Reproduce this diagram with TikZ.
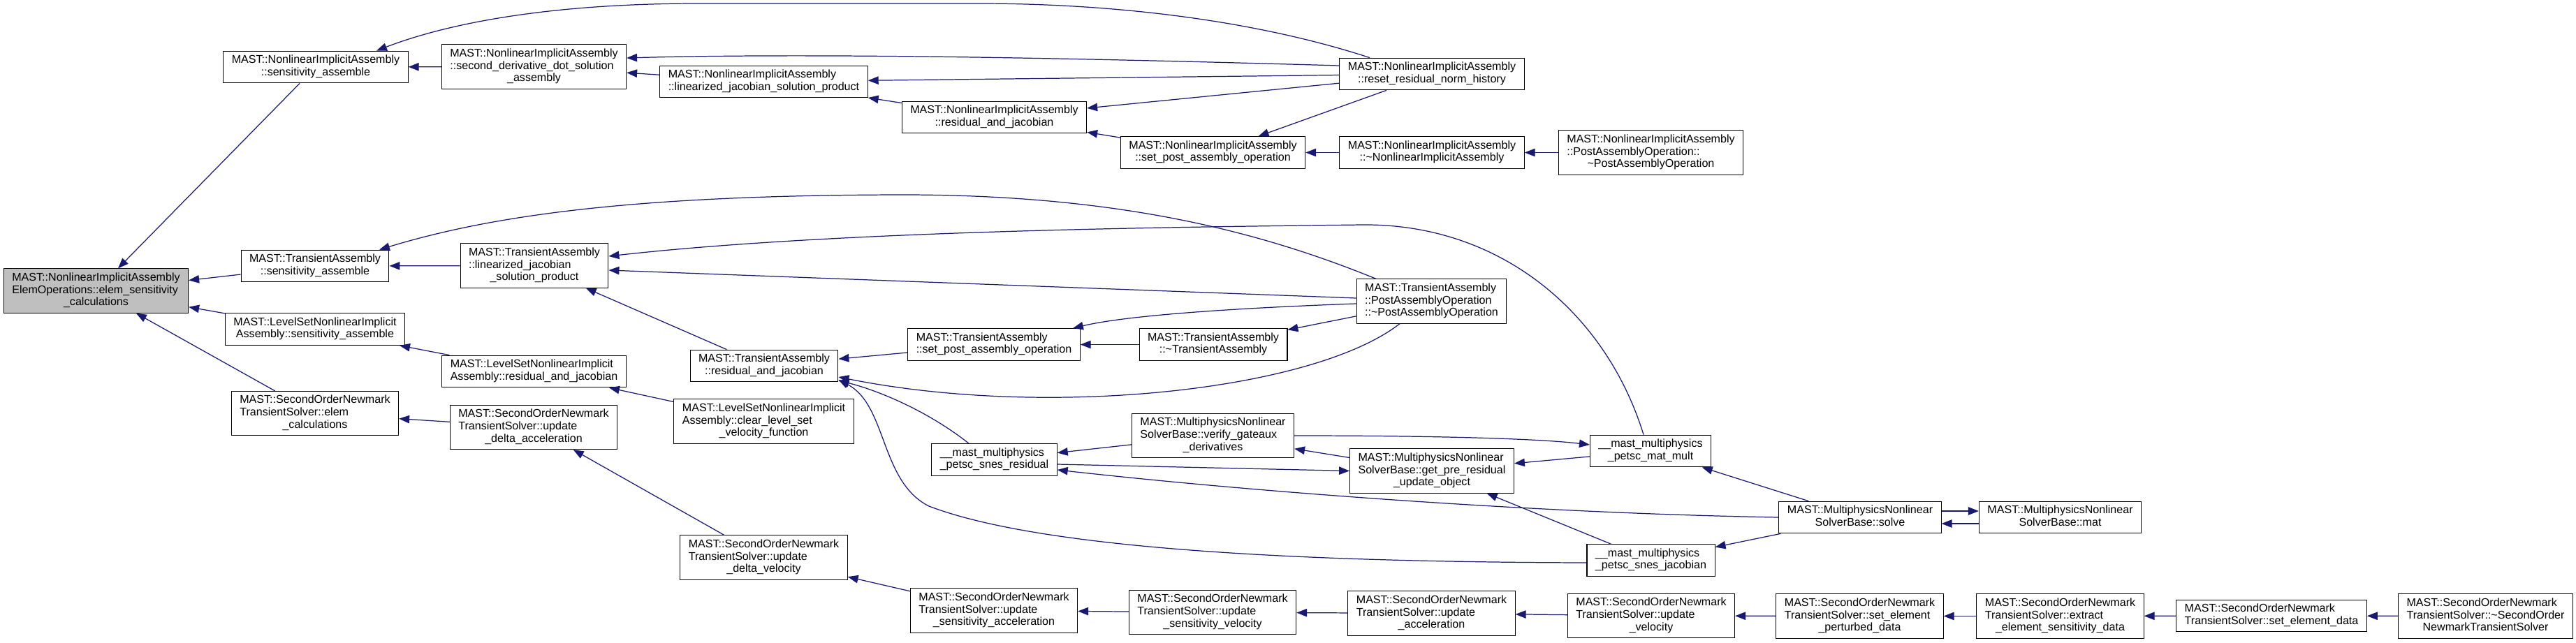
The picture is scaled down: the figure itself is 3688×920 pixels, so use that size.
\documentclass[tikz,border=0pt]{standalone}
\usepackage{fontspec}
\setmainfont{Liberation Sans}
\usetikzlibrary{arrows.meta}
\definecolor{edgeblue}{HTML}{191970}
\definecolor{mainfill}{HTML}{BFBFBF}
\newcommand{\fnlab}[2]{\begin{tabular}{@{}l@{}}#1\\\multicolumn{1}{@{}c@{}}{#2}\end{tabular}}
\begin{document}
\begin{tikzpicture}[x=0.02cm, y=-0.02cm,
    fn/.style={draw=black, line width=0.6pt, fill=white, inner xsep=0.24cm, inner ysep=3pt,
      font=\fontsize{9.15}{10}\selectfont},
    calls/.style={draw=edgeblue, line width=0.7pt, -{Triangle[length=8.5pt,width=6.5pt]}}]
    \useasboundingbox (0,0) rectangle (3688,920);

    % column 1 and 2
    \node[fn, fill=mainfill] (esc) at (137.5,416.5) {\fnlab{MAST::NonlinearImplicitAssembly\\ElemOperations::elem\_sensitivity}{\_calculations}};
    \node[fn] (niaSens) at (452,96) {\fnlab{MAST::NonlinearImplicitAssembly}{::sensitivity\_assemble}};
    \node[fn] (taSens) at (451,381) {\fnlab{MAST::TransientAssembly}{::sensitivity\_assemble}};
    \node[fn] (lsSens) at (451,471.5) {\fnlab{MAST::LevelSetNonlinearImplicit}{Assembly::sensitivity\_assemble}};
    \node[fn] (snElem) at (451,592) {\fnlab{MAST::SecondOrderNewmark\\TransientSolver::elem}{\_calculations}};

    % column 3 and 4
    \node[fn] (niaSecond) at (764.5,95.5) {\fnlab{MAST::NonlinearImplicitAssembly\\::second\_derivative\_dot\_solution}{\_assembly}};
    \node[fn] (taLin) at (765,380.5) {\fnlab{MAST::TransientAssembly\\::linearized\_jacobian}{\_solution\_product}};
    \node[fn] (lsRes) at (764.5,532) {\fnlab{MAST::LevelSetNonlinearImplicit}{Assembly::residual\_and\_jacobian}};
    \node[fn] (snDAcc) at (764,612) {\fnlab{MAST::SecondOrderNewmark\\TransientSolver::update}{\_delta\_acceleration}};
    \node[fn] (niaLin) at (1093.5,117) {\fnlab{MAST::NonlinearImplicitAssembly}{::linearized\_jacobian\_solution\_product}};
    \node[fn] (taRes) at (1094,524) {\fnlab{MAST::TransientAssembly}{::residual\_and\_jacobian}};
    \node[fn] (lsClear) at (1093.5,603.5) {\fnlab{MAST::LevelSetNonlinearImplicit\\Assembly::clear\_level\_set}{\_velocity\_function}};
    \node[fn] (snDVel) at (1093.5,798.5) {\fnlab{MAST::SecondOrderNewmark\\TransientSolver::update}{\_delta\_velocity}};

    % column 5 and 6
    \node[fn] (niaRes) at (1423.5,168) {\fnlab{MAST::NonlinearImplicitAssembly}{::residual\_and\_jacobian}};
    \node[fn] (taSet) at (1423,493.5) {\fnlab{MAST::TransientAssembly}{::set\_post\_assembly\_operation}};
    \node[fn] (snesRes) at (1423.5,658.5) {\fnlab{\_\_mast\_multiphysics}{\_petsc\_snes\_residual}};
    \node[fn] (snSAcc) at (1423,874.5) {\fnlab{MAST::SecondOrderNewmark\\TransientSolver::update}{\_sensitivity\_acceleration}};
    \node[fn] (niaSet) at (1736.5,218.5) {\fnlab{MAST::NonlinearImplicitAssembly}{::set\_post\_assembly\_operation}};
    \node[fn] (taDtor) at (1737,493.5) {\fnlab{MAST::TransientAssembly}{::\textasciitilde TransientAssembly}};
    \node[fn] (verify) at (1736.5,624) {\fnlab{MAST::MultiphysicsNonlinear\\SolverBase::verify\_gateaux}{\_derivatives}};
    \node[fn] (snSVel) at (1736,877) {\fnlab{MAST::SecondOrderNewmark\\TransientSolver::update}{\_sensitivity\_velocity}};

    % column 7 and 8
    \node[fn] (reset) at (2050,106) {\fnlab{MAST::NonlinearImplicitAssembly}{::reset\_residual\_norm\_history}};
    \node[fn] (niaDtor) at (2050,218.5) {\fnlab{MAST::NonlinearImplicitAssembly}{::\textasciitilde NonlinearImplicitAssembly}};
    \node[fn] (taPost) at (2049.5,431.5) {\fnlab{MAST::TransientAssembly\\::PostAssemblyOperation}{::\textasciitilde PostAssemblyOperation}};
    \node[fn] (getPre) at (2050,674.5) {\fnlab{MAST::MultiphysicsNonlinear\\SolverBase::get\_pre\_residual}{\_update\_object}};
    \node[fn] (snAcc) at (2049.5,878.5) {\fnlab{MAST::SecondOrderNewmark\\TransientSolver::update}{\_acceleration}};
    \node[fn] (niaPost) at (2363.5,218.5) {\fnlab{MAST::NonlinearImplicitAssembly\\::PostAssemblyOperation::}{\textasciitilde PostAssemblyOperation}};
    \node[fn] (matMult) at (2363,646) {\fnlab{\_\_mast\_multiphysics}{\_petsc\_mat\_mult}};
    \node[fn] (snesJac) at (2363.5,802.5) {\fnlab{\_\_mast\_multiphysics}{\_petsc\_snes\_jacobian}};
    \node[fn] (snVel) at (2364,882) {\fnlab{MAST::SecondOrderNewmark\\TransientSolver::update}{\_velocity}};

    % right part
    \node[fn] (solve) at (2663,741) {\fnlab{MAST::MultiphysicsNonlinear}{SolverBase::solve}};
    \node[fn] (mat) at (2949.5,741) {\fnlab{MAST::MultiphysicsNonlinear}{SolverBase::mat}};
    \node[fn] (snPert) at (2662.5,882.5) {\fnlab{MAST::SecondOrderNewmark\\TransientSolver::set\_element}{\_perturbed\_data}};
    \node[fn] (snExtract) at (2949.5,882.5) {\fnlab{MAST::SecondOrderNewmark\\TransientSolver::extract}{\_element\_sensitivity\_data}};
    \node[fn] (snSetElem) at (3252,882) {\fnlab{MAST::SecondOrderNewmark}{TransientSolver::set\_element\_data}};
    \node[fn] (snDtor) at (3558.5,882.5) {\fnlab{MAST::SecondOrderNewmark\\TransientSolver::\textasciitilde SecondOrder}{NewmarkTransientSolver}};

    % callers of elem_sensitivity_calculations
    \draw[calls] (niaSens) -- (esc);
    \draw[calls] (taSens) -- (esc);
    \draw[calls] (lsSens) -- (esc);
    \draw[calls] (snElem) -- (esc);

    % nonlinear implicit assembly
    \draw[calls] (niaSecond) -- (niaSens);
    \draw[calls] ([xshift=-1.78cm]reset.north) .. controls (1800,30) and (1600,5) .. (1400,5)
      -- (1000,5) .. controls (800,5) and (650,30) .. ([xshift=1.74cm]niaSens.north);
    \draw[calls] ([yshift=.24cm]reset.west) .. controls (1500,82) and (1150,76) .. ([yshift=.25cm]niaSecond.east);
    \draw[calls] (niaLin) -- (niaSecond);
    \draw[calls] (reset) -- (niaLin);
    \draw[calls] (niaRes) -- (niaLin);
    \draw[calls] (reset) -- (niaRes);
    \draw[calls] (niaSet) -- (niaRes);
    \draw[calls] (reset) -- (niaSet);
    \draw[calls] (niaDtor) -- (niaSet);
    \draw[calls] (niaPost) -- (niaDtor);

    % transient assembly
    \draw[calls] (taLin) -- (taSens);
    \draw[calls] ([xshift=-1.59cm]taPost.north) .. controls (1800,330) and (1600,280) .. (1300,279)
      .. controls (900,279) and (700,310) .. ([xshift=1.84cm]taSens.north);
    \draw[calls] ([yshift=.09cm]taPost.west) -- ([yshift=-.13cm]taLin.east);
    \draw[calls] ([xshift=-.2cm]matMult.north) .. controls (2300,450) and (2150,320) .. (1950,322)
      .. controls (1700,325) and (1200,330) .. ([yshift=.27cm]taLin.east);
    \draw[calls] (taRes) -- (taLin);
    \draw[calls] (taSet) -- (taRes);
    \draw[calls] ([xshift=-.91cm]taPost.south) .. controls (1880,560) and (1500,600) .. ([yshift=-.32cm]taRes.east);
    \draw[calls] ([xshift=-.73cm]snesRes.north) .. controls (1330,590) and (1260,560) .. ([yshift=-.42cm]taRes.east);
    \draw[calls] ([yshift=-.07cm]snesJac.west) .. controls (1900,805) and (1500,790) .. (1330,725)
      .. controls (1260,690) and (1270,580) .. ([yshift=-.4cm]taRes.east);
    \draw[calls] ([yshift=-.07cm]taPost.west) .. controls (1800,440) and (1620,450) .. ([xshift=2.26cm]taSet.north);
    \draw[calls] (taDtor) -- (taSet);
    \draw[calls] (taPost) -- (taDtor);

    % multiphysics solver
    \draw[calls] (verify) -- (snesRes);
    \draw[calls] ([yshift=-.13cm]snesRes.east) -- (getPre.west);
    \draw[calls] (getPre) -- (verify);
    \draw[calls] (verify.east) .. controls (2050,624) and (2200,628) .. ([yshift=.18cm]matMult.west);
    \draw[calls] (matMult) -- (getPre);
    \draw[calls] (solve) -- (matMult);
    \draw[calls] (solve.west) .. controls (2200,735) and (1800,705) .. ([yshift=-.29cm]snesRes.east);
    \draw[calls] (solve) -- (snesJac);
    \draw[calls] (snesJac) -- (getPre);
    \draw[calls] ([yshift=.18cm]solve.east) -- ([yshift=.18cm]mat.west);
    \draw[calls] ([yshift=-.18cm]mat.west) -- ([yshift=-.18cm]solve.east);

    % level set and newmark
    \draw[calls] (lsRes) -- (lsSens);
    \draw[calls] (lsClear) -- (lsRes);
    \draw[calls] (snDAcc) -- (snElem);
    \draw[calls] (snDVel) -- (snDAcc);
    \draw[calls] (snSAcc) -- (snDVel);
    \foreach \a/\b in {snSVel/snSAcc, snAcc/snSVel, snVel/snAcc, snPert/snVel,
      snExtract/snPert, snSetElem/snExtract, snDtor/snSetElem}
      \draw[calls] (\a) -- (\b);
\end{tikzpicture}
\end{document}
